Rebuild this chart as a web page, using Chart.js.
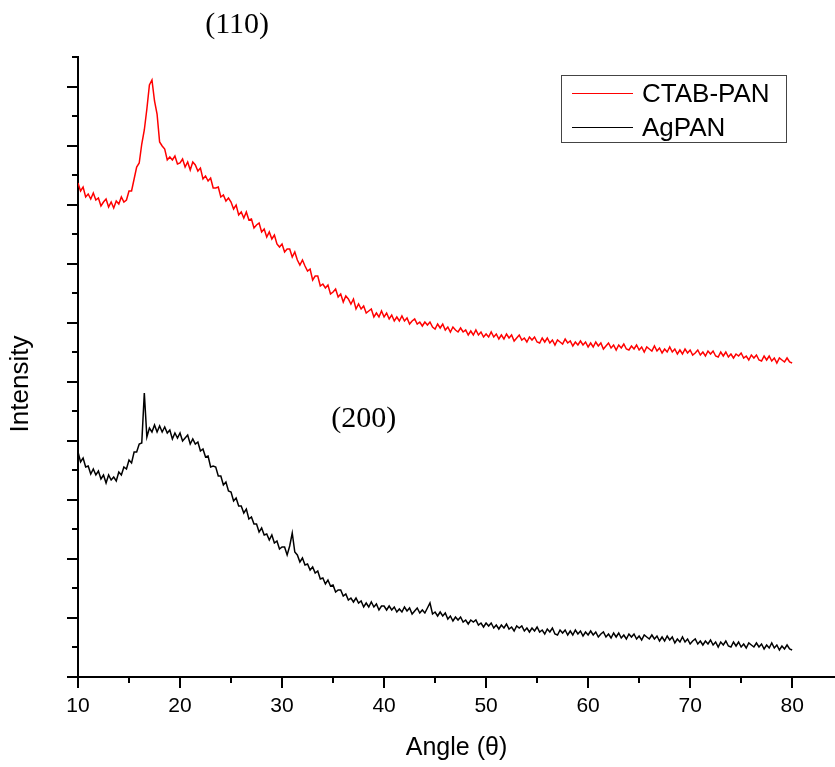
<!DOCTYPE html>
<html>
<head>
<meta charset="utf-8">
<title>XRD - CTAB-PAN / AgPAN</title>
<script src="https://cdn.jsdelivr.net/npm/chart.js@4.4.1/dist/chart.umd.min.js"></script>
<style>
  html, body { margin: 0; padding: 0; background: #fff; }
  canvas { display: block; }
</style>
</head>
<body>
<canvas id="xrd" width="835" height="767"></canvas>
<script>
// scan grid: 10° to 80°, step 0.25°
const angleStart = 10;
const angleStep = 0.25;

// intensity (a.u.), one row = 5°
const ctabPan = [
  494, 486, 490, 480, 483, 478, 484, 477, 479, 471, 475, 478, 470, 475, 469, 476, 473, 480, 475, 477,
  486, 486, 498, 510, 514, 533, 547, 568, 592, 597, 576, 563, 535, 531, 528, 517, 520, 517, 521, 513,
  514, 518, 510, 515, 507, 515, 512, 506, 509, 498, 501, 496, 499, 489, 489, 490, 480, 482, 476, 479,
  475, 468, 472, 462, 465, 459, 465, 457, 458, 449, 452, 454, 445, 448, 440, 445, 438, 442, 433, 430,
  433, 425, 428, 428, 420, 425, 417, 412, 417, 411, 406, 408, 397, 401, 401, 391, 393, 389, 392, 383,
  385, 388, 380, 383, 375, 381, 378, 373, 378, 368, 373, 368, 371, 364, 366, 368, 360, 364, 360, 366,
  360, 364, 358, 362, 356, 360, 356, 361, 356, 359, 353, 356, 358, 353, 355, 351, 355, 352, 355, 350,
  348, 353, 349, 353, 347, 350, 345, 350, 347, 345, 349, 345, 347, 342, 346, 342, 347, 342, 345, 340,
  343, 340, 345, 340, 343, 338, 342, 338, 343, 339, 342, 336, 339, 342, 337, 339, 335, 340, 337, 340,
  335, 334, 339, 335, 339, 334, 337, 332, 337, 335, 333, 338, 334, 336, 331, 335, 332, 336, 332, 335,
  330, 334, 330, 335, 331, 334, 328, 331, 334, 329, 332, 327, 332, 329, 333, 328, 327, 331, 328, 332,
  327, 330, 325, 330, 328, 326, 331, 326, 329, 324, 328, 325, 330, 325, 328, 323, 327, 323, 328, 324,
  327, 322, 324, 327, 322, 325, 321, 326, 323, 326, 321, 320, 325, 321, 325, 320, 323, 319, 323, 321,
  324, 319, 321, 317, 322, 319, 322, 317, 316, 321, 317, 321, 316, 319, 314, 319, 317, 315, 319, 315,
  314
];

const agPan = [
  225, 215, 219, 210, 211, 203, 208, 202, 206, 198, 202, 194, 202, 197, 200, 196, 205, 202, 210, 208,
  217, 214, 225, 225, 233, 234, 284, 240, 249, 245, 252, 245, 251, 245, 250, 244, 247, 238, 244, 239,
  244, 236, 239, 242, 233, 238, 233, 235, 226, 228, 220, 221, 210, 211, 210, 201, 201, 192, 195, 186,
  185, 176, 179, 171, 171, 164, 168, 158, 160, 153, 153, 145, 149, 142, 143, 137, 142, 134, 136, 128,
  130, 130, 122, 131, 144, 125, 122, 115, 119, 112, 113, 107, 110, 104, 106, 98, 99, 93, 97, 91,
  92, 85, 87, 87, 81, 83, 77, 79, 75, 79, 74, 76, 70, 74, 70, 75, 70, 73, 67, 71,
  71, 67, 71, 67, 70, 65, 68, 65, 70, 66, 69, 63, 66, 69, 64, 67, 64, 69, 74, 63,
  65, 61, 65, 61, 64, 58, 61, 56, 60, 57, 60, 55, 57, 53, 57, 55, 57, 52, 54, 50,
  54, 51, 54, 49, 52, 48, 52, 49, 53, 48, 50, 46, 51, 49, 51, 46, 49, 45, 49, 46,
  50, 45, 47, 43, 48, 45, 49, 43, 42, 47, 44, 47, 42, 46, 42, 47, 43, 46, 41, 45,
  42, 46, 42, 45, 40, 43, 45, 40, 43, 39, 44, 40, 44, 39, 42, 38, 43, 40, 43, 38,
  41, 37, 42, 40, 38, 42, 38, 41, 36, 40, 36, 41, 37, 40, 34, 38, 35, 40, 35, 38,
  33, 36, 38, 33, 36, 32, 36, 33, 37, 32, 35, 30, 35, 32, 36, 31, 30, 35, 31, 35,
  30, 33, 29, 34, 32, 30, 34, 30, 33, 28, 32, 29, 34, 29, 32, 27, 31, 28, 32, 28,
  27
];

const angles = ctabPan.map((_, i) => angleStart + i * angleStep);

const xTickValues = [10, 15, 20, 25, 30, 35, 40, 45, 50, 55, 60, 65, 70, 75, 80];
const xLabelStep = 10;

const seriesNames = ['CTAB-PAN', 'AgPAN'];
const seriesColors = ['#ff0000', '#000000'];

// peak labels: [text, angle, intensity]
const peakLabels = [
  ['(110)', 25.6, 644],
  ['(200)', 38.0, 250]
];

const sans = "'Liberation Sans', Arial, sans-serif";
const serif = "'Liberation Serif', 'Times New Roman', serif";

const decorations = {
  id: 'decorations',
  afterDraw(chart) {
    const { ctx, chartArea, scales: { x, y } } = chart;
    ctx.save();

    // tick marks, long on the major ones
    ctx.strokeStyle = '#000';
    ctx.lineWidth = 2;
    x.ticks.forEach(t => {
      const px = Math.round(x.getPixelForValue(t.value));
      const len = t.value % xLabelStep === 0 ? 11 : 6;
      ctx.beginPath();
      ctx.moveTo(px, chartArea.bottom);
      ctx.lineTo(px, chartArea.bottom + len);
      ctx.stroke();
    });
    y.ticks.forEach((t, i) => {
      const py = Math.round(y.getPixelForValue(t.value));
      const len = i % 2 === 0 ? 11 : 6;
      ctx.beginPath();
      ctx.moveTo(chartArea.left - len, py);
      ctx.lineTo(chartArea.left, py);
      ctx.stroke();
    });

    // y title
    ctx.fillStyle = '#000';
    ctx.font = '26px ' + sans;
    ctx.textAlign = 'center';
    ctx.textBaseline = 'alphabetic';
    ctx.translate(28, chartArea.bottom - 293);
    ctx.rotate(-Math.PI / 2);
    ctx.fillText('Intensity', 0, 0);
    ctx.setTransform(1, 0, 0, 1, 0, 0);

    // peak labels
    ctx.font = '30px ' + serif;
    peakLabels.forEach(([text, a, v]) => {
      ctx.fillText(text, x.getPixelForValue(a), y.getPixelForValue(v));
    });

    // legend
    const bx = chartArea.right - 274, by = chartArea.top + 18;
    ctx.strokeStyle = '#444';
    ctx.lineWidth = 1;
    ctx.strokeRect(bx + 0.5, by + 0.5, 225, 67);
    ctx.font = '26px ' + sans;
    ctx.textAlign = 'left';
    seriesNames.forEach((name, i) => {
      const ly = by + 18 + i * 34;
      ctx.strokeStyle = seriesColors[i];
      ctx.beginPath();
      ctx.moveTo(bx + 11, ly + 0.5);
      ctx.lineTo(bx + 72, ly + 0.5);
      ctx.stroke();
      ctx.fillStyle = '#000';
      ctx.fillText(name, bx + 81, ly + 9);
    });

    ctx.restore();
  }
};

new Chart(document.getElementById('xrd'), {
  type: 'line',
  data: {
    datasets: [
      {
        label: seriesNames[0],
        data: ctabPan.map((v, i) => ({ x: angles[i], y: v })),
        borderColor: seriesColors[0],
        borderWidth: 1.5,
        pointRadius: 0,
        tension: 0
      },
      {
        label: seriesNames[1],
        data: agPan.map((v, i) => ({ x: angles[i], y: v })),
        borderColor: seriesColors[1],
        borderWidth: 1.5,
        pointRadius: 0,
        tension: 0
      }
    ]
  },
  options: {
    responsive: false,
    animation: false,
    devicePixelRatio: 1,
    layout: { padding: { top: 57, right: 0, bottom: 0, left: 0 } },
    plugins: {
      legend: { display: false },
      tooltip: { enabled: false }
    },
    scales: {
      x: {
        type: 'linear',
        position: 'bottom',
        min: 10,
        max: 84.2,
        grid: { display: false, drawTicks: false },
        border: { display: true, color: '#000', width: 2 },
        afterBuildTicks: s => { s.ticks = xTickValues.map(v => ({ value: v })); },
        afterFit: s => { s.height = 90; },
        ticks: {
          padding: 17,
          color: '#000',
          font: { family: sans, size: 21 },
          maxRotation: 0,
          autoSkip: false,
          callback: v => (v % xLabelStep === 0 ? String(v) : '')
        },
        title: {
          display: true,
          text: 'Angle (θ)',
          color: '#000',
          font: { family: sans, size: 25 },
          padding: { top: 0, bottom: 4 }
        }
      },
      y: {
        position: 'left',
        min: 0,
        max: 620,
        grid: { display: false, drawTicks: false },
        border: { display: true, color: '#000', width: 2 },
        afterFit: s => { s.width = 78; },
        ticks: { display: false, count: 22 }
      }
    }
  },
  plugins: [decorations]
});
</script>
</body>
</html>
